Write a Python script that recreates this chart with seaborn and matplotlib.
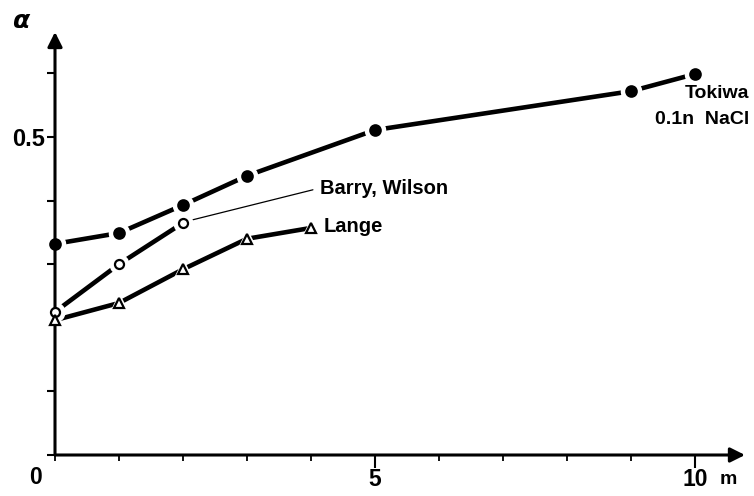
import matplotlib
matplotlib.use("Agg")
import matplotlib.pyplot as plt
import seaborn as sns
import pandas as pd

# values (m, alpha)
tokiwa_m = [0, 1, 2, 3, 5, 9, 10]
tokiwa_alpha = [0.332, 0.349, 0.393, 0.439, 0.511, 0.572, 0.599]
barry_m = [0, 1, 2]
barry_alpha = [0.225, 0.300, 0.365]
lange_m = [0, 1, 2, 3, 4]
lange_alpha = [0.212, 0.239, 0.292, 0.340, 0.357]

x_ticks = list(range(11))
y_ticks = [0.0, 0.1, 0.2, 0.3, 0.4, 0.5, 0.6]

sns.set_style("white")
plt.rcParams['font.family'] = ['Liberation Sans', 'DejaVu Sans']
plt.rcParams['font.weight'] = 'bold'
plt.rcParams['text.color'] = 'black'
plt.rcParams['xtick.color'] = 'black'
plt.rcParams['ytick.color'] = 'black'

fig = plt.figure(figsize=(7.54, 4.96), dpi=100)
ax = fig.add_axes([55/754, 41/496, 690/754, 423/496])

series = [
    (tokiwa_m, tokiwa_alpha, 'o', 'black', 7.5),
    (barry_m, barry_alpha, 'o', 'white', 6.5),
    (lange_m, lange_alpha, '^', 'white', 6.5),
]

for m, a, mk, face, ms in series:
    df = pd.DataFrame({'m': m, 'alpha': a})
    sns.lineplot(data=df, x='m', y='alpha', ax=ax, color='black', lw=3.3,
                 solid_capstyle='butt', zorder=2)
    # white halo -> gap in the line around each point
    ax.plot(df['m'], df['alpha'], ls='none', marker=mk, ms=ms + 7,
            mfc='white', mec='white', zorder=3, clip_on=False)
    ax.plot(df['m'], df['alpha'], ls='none', marker=mk, ms=ms,
            mfc=face, mec='black', mew=1.6, zorder=4, clip_on=False)

ax.set_xlim(0, 690/64)
ax.set_ylim(0, 423/636)
for s in ax.spines.values():
    s.set_visible(False)

# axes with arrow heads
ax.annotate('', xy=(1, 0), xytext=(0, 0), xycoords='axes fraction',
            arrowprops=dict(arrowstyle='-|>', lw=2.2, color='black',
                            mutation_scale=22, shrinkA=0, shrinkB=0))
ax.annotate('', xy=(0, 1), xytext=(0, 0), xycoords='axes fraction',
            arrowprops=dict(arrowstyle='-|>', lw=2.2, color='black',
                            mutation_scale=22, shrinkA=0, shrinkB=0))

ax.set_xticks([5, 10])
ax.set_xticklabels(['5', '10'], fontsize=16.5, fontweight='bold')
ax.set_xticks([t for t in x_ticks if t not in (5, 10)], minor=True)
ax.set_yticks([0.5])
ax.set_yticklabels(['0.5'], fontsize=17, fontweight='bold')
ax.set_yticks(y_ticks, minor=True)
ax.tick_params(axis='both', which='both', bottom=True, left=True, colors='black')
ax.tick_params(axis='x', which='major', direction='out', length=9, width=1.5, pad=0)
ax.tick_params(axis='x', which='minor', direction='out', length=4, width=1.3)
ax.tick_params(axis='y', which='both', direction='out', length=6, width=1.5, pad=1)
ax.set_xlabel('')
ax.set_ylabel('')

ax.text(-0.31, -0.036, '0', fontsize=16.5, fontweight='bold', ha='center', va='center', clip_on=False)
ax.text(10.52, -0.038, 'm', fontsize=14, fontweight='bold', ha='center', va='center', clip_on=False)
ax.text(-0.52, 0.683, r'$\alpha$', fontsize=18, ha='center', va='center', clip_on=False)

ax.plot([2.12, 4.03], [0.369, 0.417], color='black', lw=0.9, zorder=1)
ax.text(4.14, 0.419, 'Barry, Wilson', fontsize=14.5, fontweight='bold', ha='left', va='center')
ax.text(4.2, 0.359, 'Lange', fontsize=14.5, fontweight='bold', ha='left', va='center')
ax.text(10.85, 0.568, 'Tokiwa', fontsize=14, fontweight='bold', ha='right', va='center', clip_on=False)
ax.text(10.85, 0.527, '0.1n  NaCl', fontsize=14, fontweight='bold', ha='right', va='center', clip_on=False)

fig.savefig("out.png", dpi=100)
plt.close(fig)
